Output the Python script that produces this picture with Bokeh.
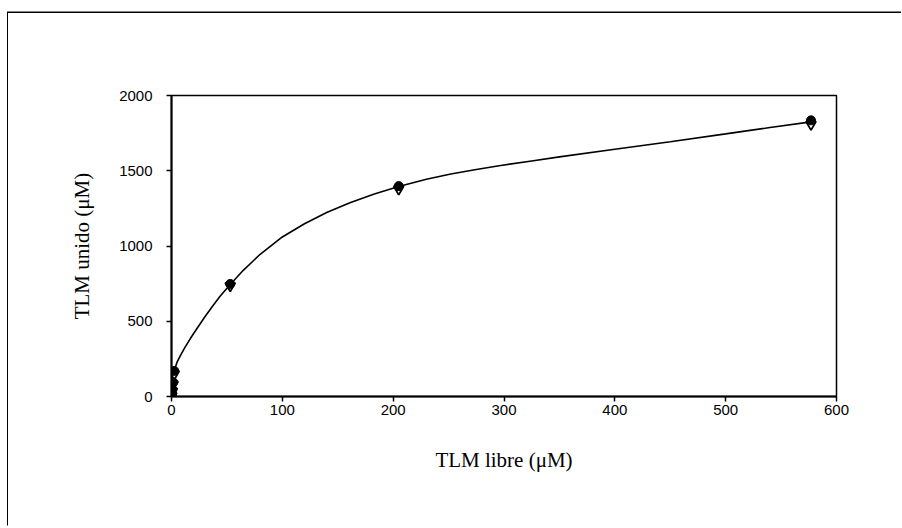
from bokeh.plotting import figure
from bokeh.embed import file_html
from bokeh.resources import INLINE
from bokeh.models import Range1d, FixedTicker

# Data
circ_x = [0.3, 0.8, 1.5, 2.5, 53, 205, 577]
circ_y = [12, 45, 95, 170, 748, 1398, 1835]
tri_x = [0.3, 0.8, 1.5, 2.5, 53, 205, 577]
tri_y = [5, 35, 80, 150, 735, 1378, 1808]

curve_x = [0, 1, 2, 3, 5, 8, 12, 17, 23, 30, 37, 44, 53, 65, 80, 100, 120, 140, 161, 183,
           205, 230, 252, 275, 297, 325, 350, 400, 450, 500, 540, 577]
curve_y = [0, 85, 140, 185, 228, 272, 325, 385, 452, 528, 600, 668, 744, 840, 945, 1060,
           1148, 1222, 1288, 1345, 1395, 1443, 1478, 1508, 1535, 1565, 1592, 1643, 1693,
           1745, 1787, 1825]

x_ticks = [0, 100, 200, 300, 400, 500, 600]
y_ticks = [0, 500, 1000, 1500, 2000]

p = figure(width=894, height=514, output_backend="svg", toolbar_location=None,
           x_range=Range1d(0, 600), y_range=Range1d(0, 2000),
           min_border_left=163, min_border_right=66, min_border_top=82, min_border_bottom=131,
           styles={"margin-top": "13px", "margin-left": "8px",
                   "box-shadow": "-1px -1.5px 0px 0px black"})

p.grid.visible = False
p.background_fill_color = "white"
p.border_fill_color = "white"
p.outline_line_color = "black"
p.outline_line_width = 1.5

for ax in (p.xaxis[0], p.yaxis[0]):
    ax.axis_line_color = "black"
    ax.axis_line_width = 2
    ax.major_tick_line_color = "black"
    ax.major_tick_line_width = 1.5
    ax.major_tick_in = 0
    ax.major_tick_out = 5
    ax.minor_tick_line_color = None
    ax.major_label_text_font = "Liberation Sans"
    ax.major_label_text_font_size = "15px"
    ax.major_label_text_color = "black"
    ax.axis_label_text_font = "Liberation Serif"
    ax.axis_label_text_font_size = "21px"
    ax.axis_label_text_font_style = "normal"
    ax.axis_label_text_color = "black"

p.xaxis[0].ticker = FixedTicker(ticks=x_ticks)
p.yaxis[0].ticker = FixedTicker(ticks=y_ticks)
p.xaxis[0].major_label_standoff = 3
p.yaxis[0].major_label_standoff = 14
p.xaxis[0].axis_label = "TLM libre (μM)"
p.yaxis[0].axis_label = "TLM unido (μM)"
p.xaxis[0].axis_label_standoff = 30
p.yaxis[0].axis_label_standoff = 22

p.line(curve_x, curve_y, line_color="black", line_width=1.6)
p.scatter(tri_x, tri_y, marker="inverted_triangle", size=10, fill_color="white",
          line_color="black", line_width=1.8)
p.scatter(circ_x, circ_y, marker="circle", size=9, fill_color="black", line_color="black")

open("out.html", "w").write(file_html(p, INLINE))
